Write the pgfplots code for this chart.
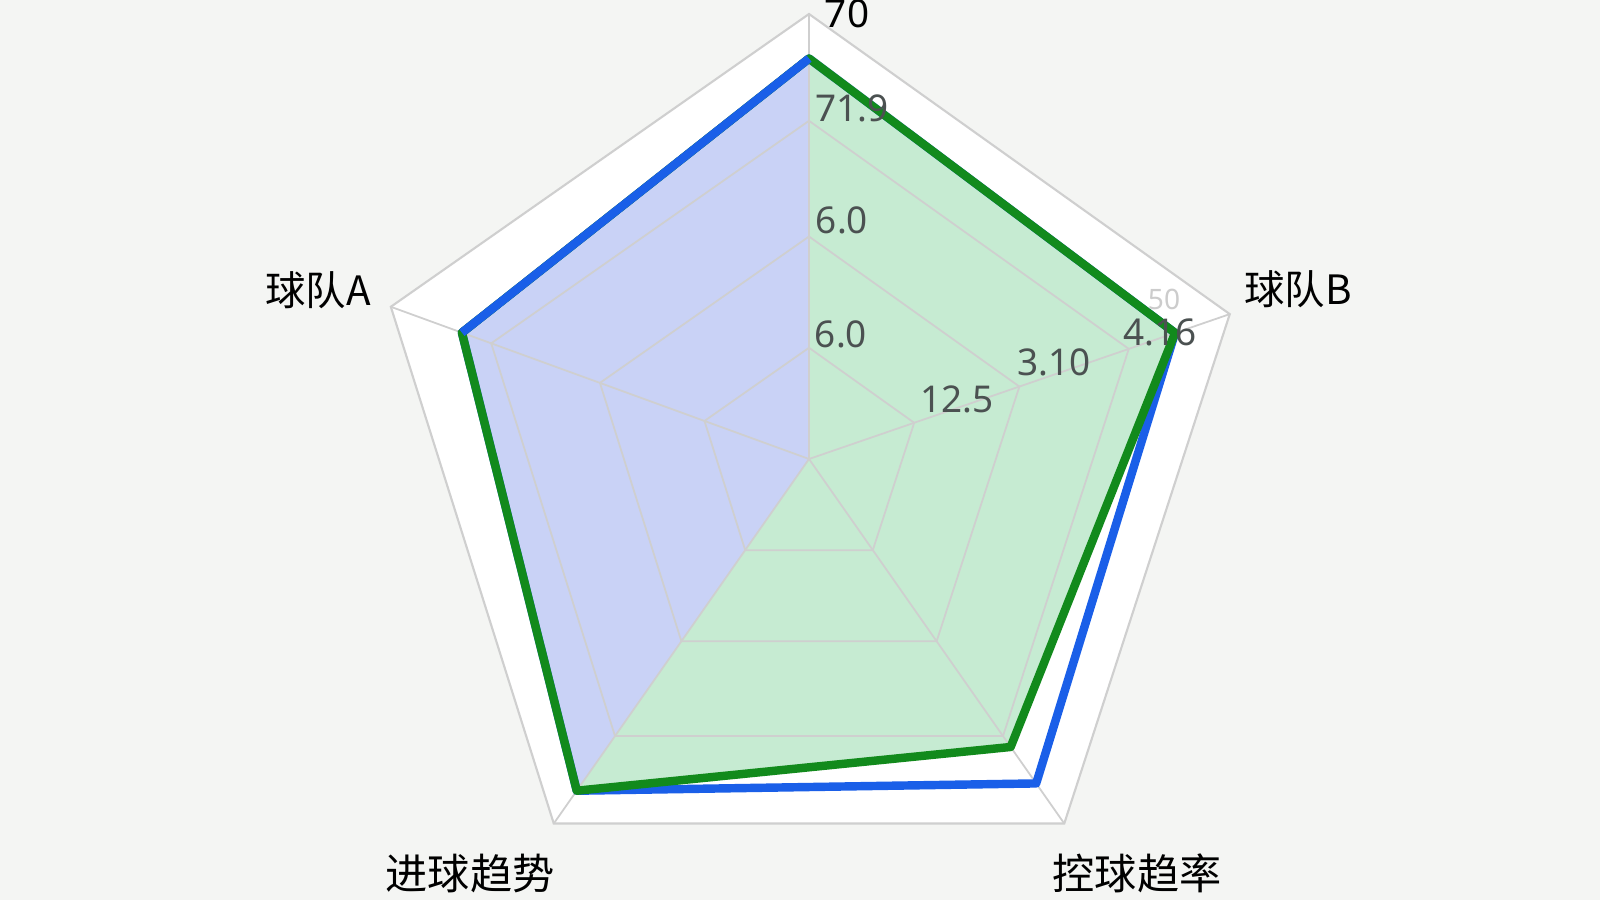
\documentclass[border=0pt]{standalone}
\usepackage{fontspec}
\setmainfont{Noto Sans}
\newfontfamily\cjk{Noto Sans CJK SC}
\usepackage{pgfplots}
\pgfplotsset{compat=1.18}

\definecolor{bgc}{HTML}{F4F5F3}
\definecolor{gridc}{HTML}{CFCFCF}
\definecolor{teamA}{HTML}{1A5FE8}
\definecolor{teamB}{HTML}{128A1C}
\definecolor{fillA}{HTML}{C9D2F6}
\definecolor{fillB}{HTML}{C6EBD2}
\definecolor{tickc}{HTML}{4B5151}

\begin{document}
\begin{tikzpicture}
	\path[use as bounding box, fill=bgc] (0,0) rectangle (16,9);
	\begin{axis}[
			at={(8.09cm,4.41cm)}, anchor=origin,
			x=4.45cm, y=4.45cm,
			xmin=-1.05, xmax=1.05, ymin=-1.05, ymax=1.05,
			hide axis, clip=false,
			data cs=polar
		]
		% outer ring, white inside
		\addplot[fill=white, draw=gridc, line width=0.6pt] coordinates {
				(90,1)(19,1)(-55,1)(-125,1)(160,1)} -- cycle;
		% fills: team A wedge and team B wedge
		\addplot[fill=fillA, draw=none] coordinates {
				(0,0)(-125,0.91)(160,0.83)(90,0.90)} -- cycle;
		\addplot[fill=fillB, draw=none] coordinates {
				(0,0)(90,0.90)(19,0.87)(-55,0.79)(-125,0.91)} -- cycle;
		% grid rings
		\addplot[draw=gridc, line width=0.5pt] coordinates {
				(90,0.76)(19,0.76)(-55,0.76)(-125,0.76)(160,0.76)} -- cycle;
		\addplot[draw=gridc, line width=0.5pt] coordinates {
				(90,0.5)(19,0.5)(-55,0.5)(-125,0.5)(160,0.5)} -- cycle;
		\addplot[draw=gridc, line width=0.5pt] coordinates {
				(90,0.25)(19,0.25)(-55,0.25)(-125,0.25)(160,0.25)} -- cycle;
		% spokes
		\addplot[draw=gridc, line width=0.5pt] coordinates {(0,0)(90,1)};
		\addplot[draw=gridc, line width=0.5pt] coordinates {(0,0)(19,1)};
		\addplot[draw=gridc, line width=0.5pt] coordinates {(0,0)(-55,1)};
		\addplot[draw=gridc, line width=0.5pt] coordinates {(0,0)(-125,1)};
		\addplot[draw=gridc, line width=0.5pt] coordinates {(0,0)(160,1)};
		% series outlines
		\addplot[draw=teamA, line width=2.4pt, line join=round] coordinates {
				(90,0.90)(19,0.87)(-55,0.89)(-125,0.91)(160,0.83)} -- cycle;
		\addplot[draw=teamB, line width=2.4pt, line join=round] coordinates {
				(90,0.90)(19,0.87)(-55,0.79)(-125,0.91)(160,0.83)} -- cycle;
		\addplot[draw=teamA, line width=2.4pt, line join=round] coordinates {
				(160,0.83)(90,0.90)};
	\end{axis}
	% category labels
	\node[font=\fontsize{11}{13}\selectfont] at (8.47,8.86) {70};
	\node[font=\cjk\fontsize{11.5}{14}\selectfont] at (12.98,6.11) {球队B};
	\node[font=\cjk\fontsize{11.5}{14}\selectfont] at (3.18,6.10) {球队A};
	\node[font=\cjk\fontsize{12}{14}\selectfont] at (4.70,0.27) {进球趋势};
	\node[font=\cjk\fontsize{12}{14}\selectfont] at (11.37,0.27) {控球趋率};
	% value labels
	\begin{scope}[every node/.style={font=\fontsize{10.5}{12}\selectfont, text=tickc, inner sep=0pt}]
		\node at (8.52,7.92) {71.9};
		\node at (8.42,6.80) {6.0};
		\node at (8.41,5.66) {6.0};
		\node at (9.57,5.01) {12.5};
		\node at (10.54,5.38) {3.10};
		\node at (11.60,5.68) {4.16};
		\node[font=\fontsize{8}{10}\selectfont, text=gray!40] at (11.64,6.01) {50};
	\end{scope}
\end{tikzpicture}
\end{document}
